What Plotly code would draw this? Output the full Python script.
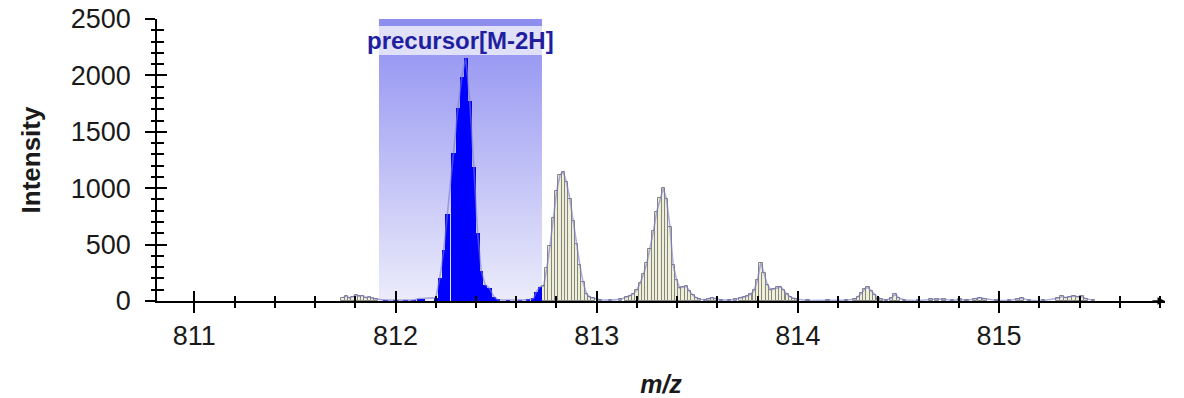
import plotly.graph_objects as go

# ---------------------------------------------------------------------------
# Data
# ---------------------------------------------------------------------------
# Precursor isolation window (m/z)
window_lo = 811.918
window_hi = 812.728
window_label = "precursor[M-2H]"

# Profile spectrum, split into regions along the m/z axis
left_noise_mz = [811.739, 811.755, 811.772, 811.788, 811.805, 811.821,
                 811.837, 811.854, 811.870, 811.886, 811.903]
left_noise_int = [30, 45, 25, 35, 50, 40, 48, 30, 35, 25, 18]

precursor_mz = [811.950, 812.000, 812.050, 812.090, 812.117, 812.137,
                812.200, 812.220, 812.240, 812.259, 812.288, 812.310,
                812.330, 812.349, 812.369, 812.389, 812.408, 812.426,
                812.446, 812.467, 812.489, 812.510, 812.560, 812.620,
                812.660, 812.686, 812.701, 812.718]
precursor_int = [8, 6, 6, 8, 22, 22,
                 30, 201, 452, 771, 1309, 1708,
                 1989, 2152, 1776, 1191, 606, 269,
                 142, 112, 38, 10, 8, 8,
                 12, 24, 83, 127]

iso1_mz = [812.736, 812.752, 812.768, 812.785, 812.801, 812.818, 812.834,
           812.850, 812.867, 812.883, 812.900, 812.916, 812.932, 812.949,
           812.965, 812.982, 813.020, 813.070, 813.120]
iso1_int = [130, 290, 490, 737, 973, 1120, 1143,
            1053, 900, 713, 506, 321, 168, 64,
            36, 25, 10, 8, 15]

iso2_mz = [813.151, 813.167, 813.183, 813.200, 813.216, 813.233, 813.249,
           813.265, 813.282, 813.298, 813.315, 813.331, 813.347, 813.364,
           813.380, 813.397, 813.413, 813.429, 813.446, 813.462, 813.479,
           813.495, 813.511, 813.540, 813.558, 813.575, 813.591, 813.620,
           813.660, 813.690]
iso2_int = [33, 48, 65, 100, 160, 240, 335,
            460, 620, 790, 910, 1000, 900, 660,
            320, 190, 115, 125, 130, 85, 50,
            30, 15, 12, 20, 30, 20, 8,
            8, 15]

iso3_mz = [813.717, 813.734, 813.750, 813.766, 813.783, 813.799, 813.816,
           813.832, 813.848, 813.865, 813.881, 813.898, 813.914, 813.930,
           813.947, 813.963, 813.980, 813.996, 814.050, 814.150, 814.240]
iso3_int = [30, 38, 45, 60, 95, 190, 340,
            245, 145, 100, 110, 122, 125, 95,
            58, 35, 22, 15, 5, 5, 8]

iso4_mz = [814.284, 814.300, 814.317, 814.333, 814.349, 814.366, 814.382,
           814.399, 814.415, 814.440, 814.466, 814.483, 814.499, 814.530]
iso4_int = [15, 38, 70, 110, 120, 85, 55,
            28, 15, 8, 25, 65, 30, 8]

tail_mz = [814.600, 814.661, 814.691, 814.726, 814.770, 814.806, 814.840,
           814.880, 814.905, 814.930, 814.990, 815.050, 815.094, 815.114,
           815.150, 815.220, 815.293, 815.313, 815.333, 815.353, 815.372,
           815.392, 815.412, 815.432, 815.470]
tail_int = [5, 15, 18, 15, 5, 15, 5,
            20, 30, 20, 5, 5, 15, 25,
            5, 5, 25, 40, 30, 35, 45,
            35, 40, 20, 5]

x_tick_vals = [811, 812, 813, 814, 815]
x_tick_text = ["811", "812", "813", "814", "815"]
y_tick_vals = [0, 500, 1000, 1500, 2000, 2500]
y_tick_text = ["0", "500", "1000", "1500", "2000", "2500"]

x_range = [810.8146, 815.8246]
y_range = [0, 2500]

# ---------------------------------------------------------------------------
# Styling
# ---------------------------------------------------------------------------
FONT = "Liberation Sans, Arial, sans-serif"
TEXT_COLOR = "#1a1a1a"
BLUE = "#0000ff"
BEIGE = "#efefd6"
STRIPE = "#858585"
OUTLINE = "rgba(120,120,200,0.6)"
LABEL_BOTTOM = 2181     # intensity where the label box begins
LABEL_TOP = 2438        # intensity where the top strip begins

mz = left_noise_mz + precursor_mz + iso1_mz + iso2_mz + iso3_mz + iso4_mz + tail_mz
intensity = (left_noise_int + precursor_int + iso1_int + iso2_int
             + iso3_int + iso4_int + tail_int)

in_win = [window_lo <= m <= window_hi for m in mz]
win_mz = [m for m, w in zip(mz, in_win) if w]
win_int = [v for v, w in zip(intensity, in_win) if w]
out_mz = [m for m, w in zip(mz, in_win) if not w]
out_int = [v for v, w in zip(intensity, in_win) if not w]

fig = go.Figure()

# isolation window with vertical gradient (base axes, drawn underneath)
fig.add_trace(go.Scatter(
    x=[window_lo, window_hi, window_hi, window_lo, window_lo],
    y=[0, 0, LABEL_BOTTOM, LABEL_BOTTOM, 0],
    mode="lines", line=dict(width=0), fill="toself",
    fillgradient=dict(type="vertical",
                      colorscale=[[0, "#ececfb"], [1, "#9a9af3"]]),
    hoverinfo="skip", showlegend=False,
))

# spectrum bars outside the window (overlay axes, drawn above the window)
fig.add_trace(go.Bar(
    x=out_mz, y=out_int, width=0.0164,
    marker=dict(color=BEIGE, line=dict(color=STRIPE, width=1)),
    xaxis="x2", yaxis="y2", showlegend=False,
))

# spectrum bars inside the window
fig.add_trace(go.Bar(
    x=win_mz, y=win_int, width=0.0212,
    marker=dict(color=BLUE, line=dict(width=0)),
    xaxis="x2", yaxis="y2", showlegend=False,
))

# profile outline
fig.add_trace(go.Scatter(
    x=mz, y=intensity, mode="lines",
    line=dict(color=OUTLINE, width=1.6),
    xaxis="x2", yaxis="y2", hoverinfo="skip", showlegend=False,
))

# label box and top strip of the window
fig.add_shape(type="rect", xref="x", yref="y",
              x0=window_lo, x1=window_hi, y0=LABEL_BOTTOM, y1=LABEL_TOP,
              fillcolor="#e0e0f9", line=dict(width=0), layer="above")
fig.add_shape(type="rect", xref="x", yref="y",
              x0=window_lo, x1=window_hi, y0=LABEL_TOP, y1=y_range[1],
              fillcolor="#8e8eef", line=dict(width=0), layer="above")
fig.add_annotation(
    x=(window_lo + window_hi) / 2, y=(LABEL_BOTTOM + LABEL_TOP) / 2,
    xref="x", yref="y", text=window_label, showarrow=False,
    font=dict(family=FONT, size=24, color="#1f1fa0", weight="bold"),
)

# arrow head at the end of the m/z axis
fig.add_annotation(
    x=1, y=0, xref="paper", yref="paper", ax=-14, ay=0,
    axref="pixel", ayref="pixel", text="", showarrow=True,
    arrowhead=2, arrowsize=1, arrowwidth=1.5, arrowcolor="black",
)

common_tick_font = dict(family=FONT, size=27, color=TEXT_COLOR)

fig.update_layout(
    width=1184, height=398,
    margin=dict(l=157, r=19, t=19, b=97, autoexpand=False),
    paper_bgcolor="white", plot_bgcolor="white",
    barmode="overlay", bargap=0,
    xaxis=dict(
        range=x_range, tickvals=x_tick_vals, ticktext=x_tick_text,
        ticks="outside", ticklen=10, tickwidth=2, tickcolor="black",
        minor=dict(tick0=811, dtick=0.2, ticks="outside", ticklen=5,
                   tickwidth=1.5, tickcolor="black"),
        showline=True, linecolor="black", linewidth=1.5,
        showgrid=False, zeroline=False, automargin=False,
        tickfont=common_tick_font, ticklabelstandoff=0,
        title=dict(text="<b><i>m/z</i></b>", standoff=25,
                   font=dict(family=FONT, size=25, color=TEXT_COLOR)),
    ),
    yaxis=dict(
        range=y_range, tickvals=y_tick_vals, ticktext=y_tick_text,
        ticks="outside", ticklen=10, tickwidth=2, tickcolor="black",
        minor=dict(dtick=100, ticks="outside", ticklen=4,
                   tickwidth=1.5, tickcolor="black"),
        showline=True, linecolor="black", linewidth=1.5,
        showgrid=False, zeroline=False, automargin=False,
        tickfont=common_tick_font, ticklabelstandoff=9,
        title=dict(text="<b>Intensity</b>", standoff=23,
                   font=dict(family=FONT, size=26, color=TEXT_COLOR)),
    ),
    xaxis2=dict(
        range=x_range, overlaying="x", anchor="y2", side="bottom",
        tickvals=x_tick_vals, showticklabels=False,
        ticks="inside", ticklen=10, tickwidth=2, tickcolor="black",
        minor=dict(tick0=811, dtick=0.2, ticks="inside", ticklen=5,
                   tickwidth=1.5, tickcolor="black"),
        showline=False, showgrid=False, zeroline=False, automargin=False,
    ),
    yaxis2=dict(
        range=y_range, overlaying="y", anchor="x2", side="left",
        tickvals=y_tick_vals, showticklabels=False,
        ticks="inside", ticklen=10, tickwidth=2, tickcolor="black",
        minor=dict(dtick=100, ticks="inside", ticklen=7,
                   tickwidth=1.5, tickcolor="black"),
        showline=False, showgrid=False, zeroline=False, automargin=False,
    ),
)

fig.write_html("out.html")
